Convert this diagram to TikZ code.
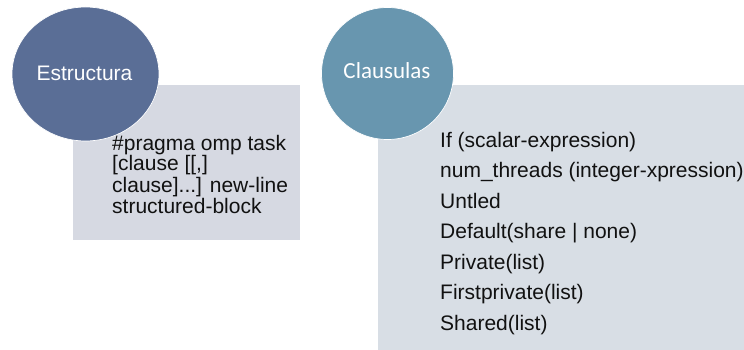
\documentclass[tikz,border=0pt]{standalone}
\usepackage{fontspec}
\setmainfont{Liberation Sans}
\newfontfamily\headfont{Carlito}
\usetikzlibrary{positioning}

\definecolor{estrcircle}{HTML}{5A6E96}
\definecolor{claucircle}{HTML}{6896AF}
\definecolor{estrbox}{HTML}{D6D9E2}
\definecolor{claubox}{HTML}{D8DEE5}
\definecolor{bodytext}{HTML}{111111}

\tikzset{
  badge/.style={draw=white, line width=0.7pt, inner sep=0pt},
  badgetext/.style={text=white, inner sep=0pt, anchor=base},
  bodyline/.style={text=bodytext, inner sep=0pt, anchor=base west,
    font=\fontsize{21}{21}\selectfont},
}

\begin{document}
\begin{tikzpicture}[x=1pt, y=-1pt]
  \useasboundingbox (0,0) rectangle (744,350);

  % content panels
  \fill[estrbox] (73,85) rectangle (300,240);
  \fill[claubox] (378,85) rectangle (744,350);

  % header badges
  \filldraw[badge, fill=estrcircle] (85.5,74) ellipse [x radius=73.5, y radius=67];
  \filldraw[badge, fill=claucircle] (387.5,73.5) circle [radius=66];

  \node[badgetext, font=\fontsize{21}{21}\selectfont] (estr) at (84.5,81) {Estructura};
  \node[badgetext, font=\headfont\fontsize{23}{23}\selectfont] (clau) at (387,79) {Clausulas};

  % syntax of the directive
  \node[bodyline] (s1) at (112,150) {\#pragma omp task};
  \node[bodyline] (s2) at (112,171) {[clause [[,]};
  \node[bodyline] (s3) at (112,192) {clause]...] new-line};
  \node[bodyline] (s4) at (112,213) {structured-block};

  % accepted clauses
  \node[bodyline] (c1) at (440,147)   {If (scalar-expression)};
  \node[bodyline] (c2) at (440,177.5) {num\_threads (integer-xpression)};
  \node[bodyline] (c3) at (440,208)   {Untled};
  \node[bodyline] (c4) at (440,238.5) {Default(share | none)};
  \node[bodyline] (c5) at (440,269)   {Private(list)};
  \node[bodyline] (c6) at (440,299.5) {Firstprivate(list)};
  \node[bodyline] (c7) at (440,330)   {Shared(list)};
\end{tikzpicture}
\end{document}
